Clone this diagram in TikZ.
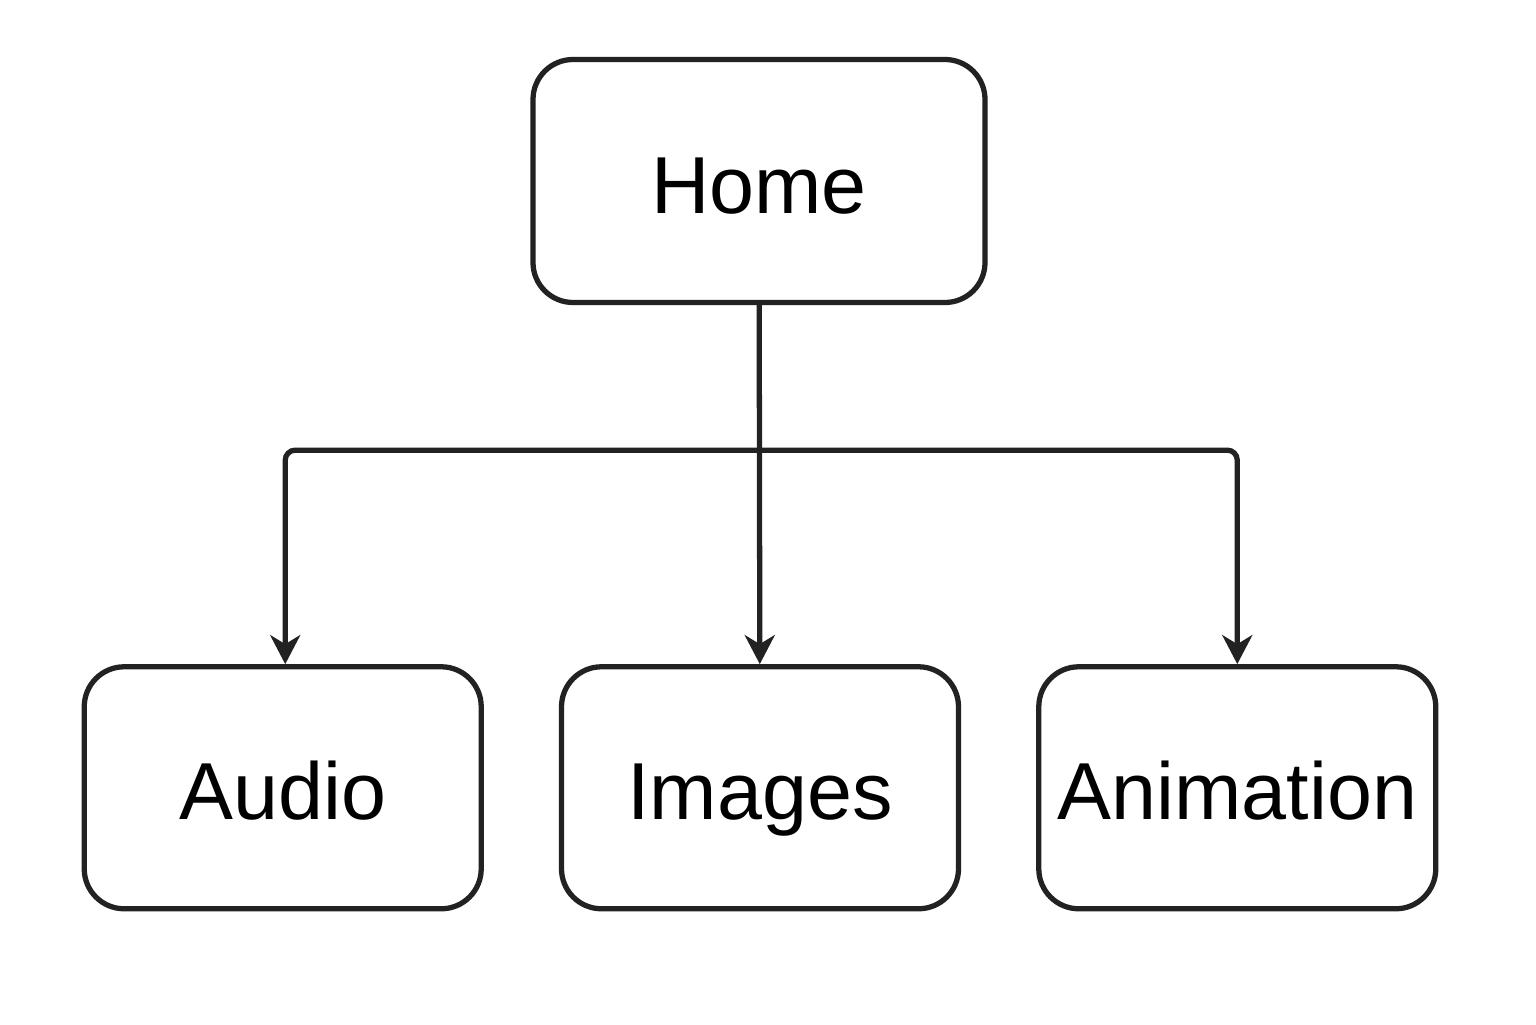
\documentclass[tikz,border=0pt]{standalone}
\usepackage{fontspec}
\setmainfont{Liberation Sans}
\usepackage{xcolor}
\usetikzlibrary{arrows.meta, positioning}
\definecolor{mapInk}{HTML}{222222}
\tikzset{
  line/.style={-{Stealth[length=2.9mm,width=3mm,inset=0.9mm]}, line width=1.5pt, draw=mapInk},
  pagebox/.style={
    rectangle,
    rounded corners=0.4cm,
    draw=mapInk,
    line width=1.5pt,
    fill=white,
    minimum width=3.97cm,
    minimum height=2.42cm,
    text height=0.82cm,
    text depth=0.18cm,
    align=center,
    text=black,
    font=\fontsize{23}{27}\selectfont
  }
}
\begin{document}
\begin{tikzpicture}
\useasboundingbox (0,0) rectangle (15.36,10.24);

\node[pagebox, minimum width=4.52cm, minimum height=2.43cm] (home) at (7.59,8.43) {Home};
\node[pagebox, below=3.59cm of home.south, anchor=north, xshift=0.01cm] (images) {Images};
\node[pagebox, left=0.75cm of images] (audio) {Audio};
\node[pagebox, right=0.75cm of images] (anim) {Animation};

\coordinate (bus) at ([yshift=-1.45cm]home.south);

\draw[line] (home) -- (images);
\draw[line, rounded corners=0.1cm] (bus) -| ([xshift=0.025cm]audio.north);
\draw[line, rounded corners=0.1cm] (bus) -| (anim.north);

\end{tikzpicture}
\end{document}
